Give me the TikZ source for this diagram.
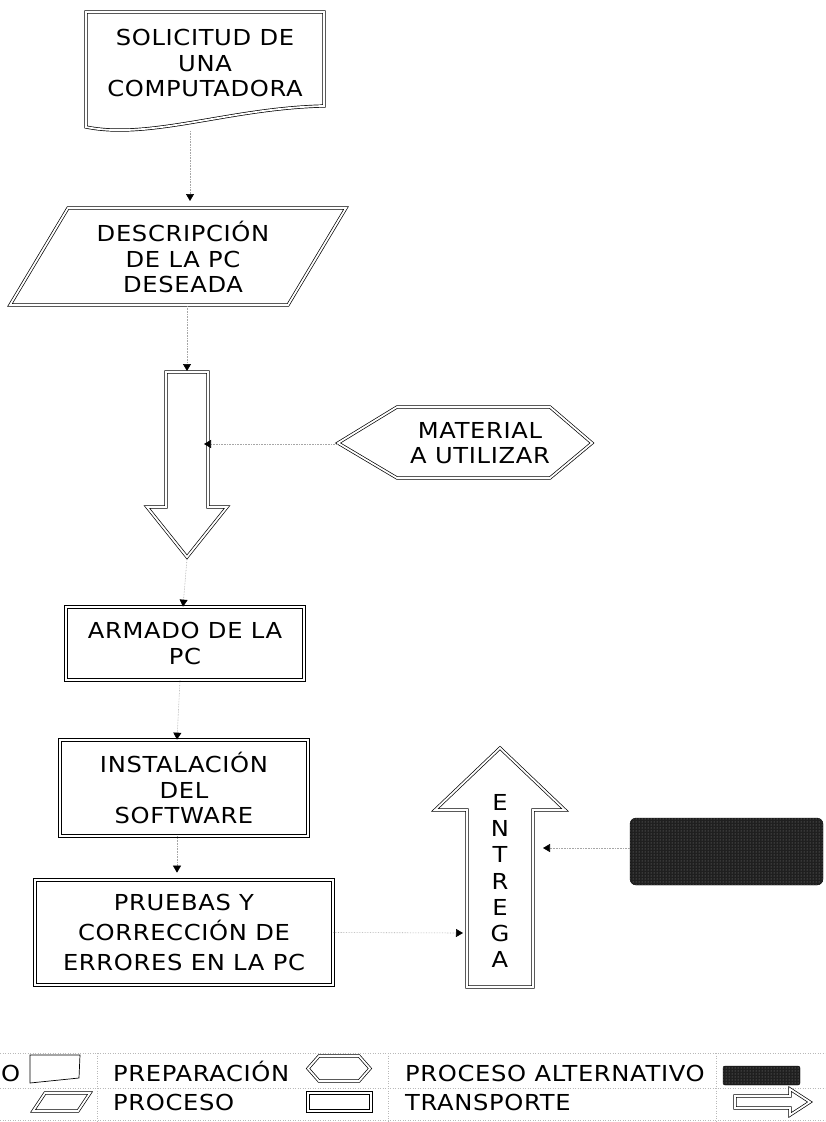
\documentclass[tikz,border=0pt]{standalone}
\usepackage{fontspec}
\newfontfamily\diafont{DejaVu Sans}[FakeStretch=1.1, LetterSpace=3]
\usetikzlibrary{arrows.meta,patterns}
\begin{document}
\begin{tikzpicture}[x=1pt,y=-1pt,
  shp/.style={draw=black, line width=0.7pt, double=white, double distance=1.8pt, line join=miter},
  lbl/.style={font={\diafont\fontsize{22}{25.5}\selectfont}, align=center, inner sep=0pt},
  lgd/.style={font={\diafont\fontsize{22}{25.5}\selectfont}, inner sep=0pt, anchor=base west},
  conn/.style={gray!70, densely dotted, line width=0.6pt, -{Triangle[width=8pt,length=7pt,color=black]}},
  gridln/.style={gray!55, dotted, line width=0.5pt},
  darkfill/.style={draw=black, fill=black!88, postaction={pattern=dots, pattern color=black!45}}]
\useasboundingbox (0,0) rectangle (825,1122);

% SOLICITUD (document)
\draw[shp] (86,12) -- (324,12) -- (324,106) .. controls (230,108) and (150,140) .. (86,127) -- cycle;
\node[lbl] (sol) at (205,63) {SOLICITUD DE\\UNA\\COMPUTADORA};
\coordinate (solb) at (190,131);

% DESCRIPCION (parallelogram)
\draw[shp] (68,208) -- (346,208) -- (288,305) -- (10,305) -- cycle;
\node[lbl] (desc) at (183,257) {DESCRIPCIÓN\\DE LA PC\\DESEADA};
\coordinate (desct) at (190,201);
\coordinate (descb) at (187,306);

% block arrow down
\draw[shp] (166,372) -- (208,372) -- (208,507) -- (227,507) -- (187,557) -- (147,507) -- (166,507) -- cycle;
\coordinate (bat) at (187,371);
\coordinate (bar) at (204,444);
\coordinate (batip) at (187,559);

% MATERIAL (hexagon)
\draw[shp] (338,443) -- (397,407) -- (550,407) -- (592,443) -- (550,478) -- (397,478) -- cycle;
\node[lbl] (mat) at (480,443) {MATERIAL\\A UTILIZAR};
\coordinate (matl) at (338,444);

% boxes
\node[lbl, shp, minimum width=238pt, minimum height=73pt] (arm) at (185,643.5) {ARMADO DE LA\\PC};
\node[lbl, shp, minimum width=248pt, minimum height=96pt] (ins) at (184,788) {INSTALACIÓN\\DEL\\SOFTWARE};
\node[lbl, shp, minimum width=298pt, minimum height=105pt, font={\diafont\fontsize{22}{30}\selectfont}] (pru) at (184,932.5) {PRUEBAS Y\\CORRECCIÓN DE\\ERRORES EN LA PC};

% ENTREGA (block arrow up)
\draw[shp] (467,987) -- (467,810) -- (435,810) -- (500,748) -- (565,810) -- (533,810) -- (533,987) -- cycle;
\node[lbl, font={\diafont\fontsize{22}{26.3}\selectfont}] (ent) at (500,881) {E\\N\\T\\R\\E\\G\\A};
\coordinate (entl) at (463,933);
\coordinate (entr) at (543,848);

% alternative process (dark)
\node[darkfill, rounded corners=6pt, minimum width=193pt, minimum height=67pt, inner sep=0pt] (alt) at (726.5,851.5) {};
\coordinate (altw) at (630,848);

% connectors
\draw[conn] (solb) -- (desct);
\draw[conn] (descb) -- (bat);
\draw[conn] (matl) -- (bar);
\draw[conn] (batip) -- ([xshift=-2pt]arm.north);
\draw[conn] ([xshift=-5pt]arm.south) -- ([xshift=-7pt]ins.north);
\draw[conn] ([xshift=-7pt]ins.south) -- ([xshift=-7pt,yshift=7pt]pru.north);
\draw[conn] (pru.east) -- (entl);
\draw[conn] (altw) -- (entr);

% legend grid
\draw[gridln] (0,1053) -- (825,1053);
\draw[gridln] (0,1088) -- (825,1088);
\draw[gridln] (0,1120) -- (825,1120);
\draw[gridln] (97,1053) -- (97,1122);
\draw[gridln] (388,1053) -- (388,1122);
\draw[gridln] (716,1053) -- (716,1122);

% legend row 1
\node[lgd] (lo) at (1,1081) {O};
\draw[line width=0.7pt] (30,1055) -- (80,1055) -- (79,1078) -- (30,1083) -- cycle;
\node[lgd] (lprep) at (113,1081) {PREPARACIÓN};
\draw[shp] (308,1068.5) -- (319,1056) -- (359,1056) -- (370,1068.5) -- (359,1081) -- (319,1081) -- cycle;
\node[lgd] (lalt) at (405,1081) {PROCESO ALTERNATIVO};
\draw[darkfill, rounded corners=2pt] (723,1066) rectangle (800,1085);

% legend row 2
\draw[shp] (45,1093) -- (90,1093) -- (78,1111) -- (33,1111) -- cycle;
\node[lgd] (lproc) at (113,1110) {PROCESO};
\draw[shp, line width=1.1pt] (308,1093) rectangle (371,1111);
\node[lgd] (ltr) at (405,1110) {TRANSPORTE};
\draw[shp] (735,1096) -- (790,1096) -- (790,1089) -- (810,1102) -- (790,1115) -- (790,1108) -- (735,1108) -- cycle;
\end{tikzpicture}
\end{document}
